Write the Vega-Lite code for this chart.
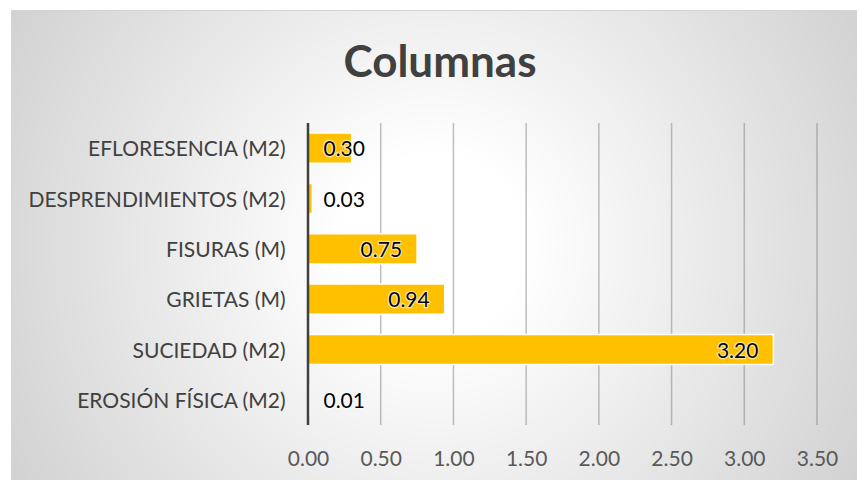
{
  "$schema": "https://vega.github.io/schema/vega-lite/v6.json",
  "width": 846,
  "height": 470,
  "autosize": {"type": "none"},
  "padding": {"left": 11, "top": 10, "right": 0, "bottom": 0},
  "background": "white",
  "title": {
    "text": "Columnas",
    "font": "Lato",
    "fontSize": 44,
    "fontWeight": "bold",
    "color": "#404040",
    "anchor": "middle",
    "offset": -76,
    "dx": 6
  },
  "config": {
    "view": {
      "fill": {
        "gradient": "radial",
        "x1": 0.5, "y1": 0.5, "r1": 0,
        "x2": 0.5, "y2": 0.5, "r2": 0.71,
        "stops": [
          {"offset": 0, "color": "#ffffff"},
          {"offset": 0.15, "color": "#ffffff"},
          {"offset": 1, "color": "#c4c4c4"}
        ]
      },
      "stroke": "#d4d4d4",
      "strokeWidth": 1
    },
    "axis": {"labelFont": "Lato", "labelFontSize": 21}
  },
  "data": {
    "values": [
      {"cat": "EFLORESENCIA (M2)", "value": 0.30},
      {"cat": "DESPRENDIMIENTOS (M2)", "value": 0.03},
      {"cat": "FISURAS (M)", "value": 0.75},
      {"cat": "GRIETAS (M)", "value": 0.94},
      {"cat": "SUCIEDAD (M2)", "value": 3.20},
      {"cat": "EROSIÓN FÍSICA (M2)", "value": 0.01}
    ]
  },
  "layer": [
    {
      "data": {"values": [{"g": 0.5}, {"g": 1.0}, {"g": 1.5}, {"g": 2.0}, {"g": 2.5}, {"g": 3.0}, {"g": 3.5}]},
      "mark": {"type": "rule", "color": "#808080", "strokeOpacity": 0.5, "strokeWidth": 1.5},
      "encoding": {
        "x": {"field": "g", "type": "quantitative"},
        "y": {"datum": "EFLORESENCIA (M2)", "bandPosition": -0.3333},
        "y2": {"datum": "EROSIÓN FÍSICA (M2)", "bandPosition": 1.3333}
      }
    },
    {
      "mark": {"type": "bar", "color": "#FFC000", "stroke": "#ffffff", "strokeWidth": 1.5},
      "encoding": {
        "y": {
          "field": "cat",
          "type": "nominal",
          "sort": null,
          "scale": {
            "domain": ["EFLORESENCIA (M2)", "DESPRENDIMIENTOS (M2)", "FISURAS (M)", "GRIETAS (M)", "SUCIEDAD (M2)", "EROSIÓN FÍSICA (M2)"],
            "range": [113, 415],
            "paddingInner": 0.4,
            "paddingOuter": 0.2
          },
          "axis": {
            "title": null,
            "orient": "left",
            "offset": -297,
            "domain": false,
            "ticks": false,
            "grid": false,
            "labelPadding": 23,
            "labelOffset": 2,
            "labelColor": "#404040",
            "labelLimit": 0
          }
        },
        "x": {
          "field": "value",
          "type": "quantitative",
          "scale": {"domain": [-2.0422, 3.775], "nice": false, "zero": false},
          "axis": {
            "title": null,
            "values": [0, 0.5, 1, 1.5, 2, 2.5, 3, 3.5],
            "format": ".2f",
            "offset": -55,
            "domain": false,
            "ticks": false,
            "grid": false,
            "labelPadding": 23,
            "labelColor": "#595959"
          }
        }
      }
    },
    {
      "data": {"values": [{"v": 0}]},
      "mark": {"type": "rule", "color": "#404040", "strokeWidth": 2.5},
      "encoding": {
        "x": {"field": "v", "type": "quantitative"},
        "y": {"datum": "EFLORESENCIA (M2)", "bandPosition": -0.3333},
        "y2": {"datum": "EROSIÓN FÍSICA (M2)", "bandPosition": 1.3333}
      }
    },
    {
      "transform": [{"calculate": "max(datum.value, 0.495)", "as": "lx"}],
      "mark": {"type": "text", "font": "Lato", "fontSize": 21, "align": "right", "baseline": "middle", "dx": -15, "dy": 2, "stroke": "#ffffff", "strokeWidth": 2.5, "strokeOpacity": 0.6, "fill": "#ffffff"},
      "encoding": {
        "x": {"field": "lx", "type": "quantitative"},
        "y": {"field": "cat", "type": "nominal", "sort": null},
        "text": {"field": "value", "type": "quantitative", "format": ".2f"}
      }
    },
    {
      "transform": [{"calculate": "max(datum.value, 0.495)", "as": "lx"}],
      "mark": {"type": "text", "font": "Lato", "fontSize": 21, "align": "right", "baseline": "middle", "dx": -15, "dy": 2, "color": "#000000"},
      "encoding": {
        "x": {"field": "lx", "type": "quantitative"},
        "y": {"field": "cat", "type": "nominal", "sort": null},
        "text": {"field": "value", "type": "quantitative", "format": ".2f"}
      }
    }
  ]
}
